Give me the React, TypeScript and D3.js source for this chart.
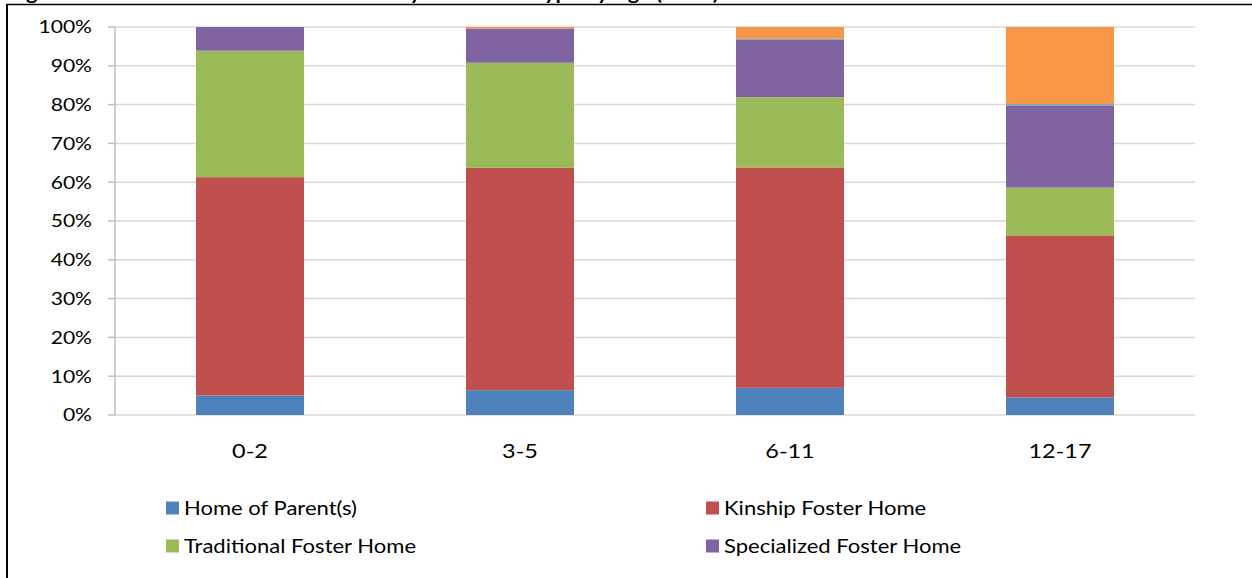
import React from "react";
import * as d3 from "d3";

const categories = ["0-2", "3-5", "6-11", "12-17"];
const seriesNames = [
  "Home of Parent(s)",
  "Kinship Foster Home",
  "Traditional Foster Home",
  "Specialized Foster Home",
  "Independent Living",
  "Congregate Care",
];
const homeOfParents = [5.0, 6.4, 7.0, 4.5];
const kinship = [56.3, 57.3, 56.8, 41.8];
const traditional = [32.6, 27.1, 18.1, 12.3];
const specialized = [6.1, 8.8, 14.9, 21.2];
const independent = [0.0, 0.0, 0.2, 0.3];
const congregate = [0.0, 0.4, 3.0, 19.9];
const yTicks = [0, 10, 20, 30, 40, 50, 60, 70, 80, 90, 100];
const legendShown = [0, 1, 2, 3];
const colors = ["#4f81bd", "#c0504d", "#9bbb59", "#8064a2", "#4bacc6", "#f79646"];

const W = 1252;
const H = 578;
const FONT = "Lato, 'Open Sans', sans-serif";

export default function App() {
  const seriesValues = [homeOfParents, kinship, traditional, specialized, independent, congregate];
  const rows = categories.map((c, i) => {
    const r: any = { cat: c };
    seriesNames.forEach((s, j) => (r[s] = seriesValues[j][i]));
    return r;
  });
  const stack = d3.stack<any>().keys(seriesNames)(rows);

  const x = d3.scaleBand().domain(categories).range([115, 1195]).paddingInner(0.6).paddingOuter(0.3);
  const y = d3.scaleLinear().domain([0, 100]).range([415, 27]);

  return (
    <div style={{ position: "absolute", left: 0, top: 0 }}>
      <svg width={W} height={H} style={{ display: "block", background: "#fff" }}>
        <text
          transform="translate(8,0) scale(1.15,1)"
          fontFamily={FONT}
          fontWeight="bold"
          fontSize={19}
          fill="#000"
        >
          Figure 6: Children in Out-of-Home Care by Placement Type by Age (2018)
        </text>
        <line x1={6} x2={W} y1={4.5} y2={4.5} stroke="#000" strokeWidth={1.5} />
        <line x1={7} x2={7} y1={4} y2={H} stroke="#000" strokeWidth={2} />
        {yTicks.map((t) => (
          <g key={t}>
            <line x1={115} x2={1195} y1={y(t)} y2={y(t)} stroke="#d9d9d9" strokeWidth={1.5} />
            <line x1={108} x2={115} y1={y(t)} y2={y(t)} stroke="#bfbfbf" strokeWidth={1.5} />
            <text
              transform={`translate(92,${y(t)}) scale(1.17,1)`}
              dy="0.35em"
              textAnchor="end"
              fontFamily={FONT}
              fontSize={18}
              fill="#000"
            >
              {t}%
            </text>
          </g>
        ))}
        <line x1={115} x2={115} y1={27} y2={415} stroke="#bfbfbf" strokeWidth={1.5} />
        {stack.map((s, j) => (
          <g key={s.key} fill={colors[j]}>
            {s.map((d, i) => (
              <rect
                key={i}
                x={x(categories[i])}
                width={x.bandwidth()}
                y={y(d[1])}
                height={Math.max(0, y(d[0]) - y(d[1]))}
              />
            ))}
          </g>
        ))}
        {categories.map((c) => (
          <text
            key={c}
            transform={`translate(${(x(c) as number) + x.bandwidth() / 2},451) scale(1.2,1)`}
            dy="0.35em"
            textAnchor="middle"
            fontFamily={FONT}
            fontSize={19.5}
            fill="#000"
          >
            {c}
          </text>
        ))}
        {legendShown.map((j, k) => {
          const lx = k % 2 === 0 ? 166 : 706;
          const ly = k < 2 ? 508 : 546;
          return (
            <g key={j}>
              <rect x={lx} y={ly - 6.5} width={13} height={13} fill={colors[j]} />
              <text
                transform={`translate(${lx + 18},${ly}) scale(1.16,1)`}
                dy="0.35em"
                fontFamily={FONT}
                fontSize={19}
                fill="#000"
              >
                {seriesNames[j]}
              </text>
            </g>
          );
        })}
      </svg>
    </div>
  );
}
